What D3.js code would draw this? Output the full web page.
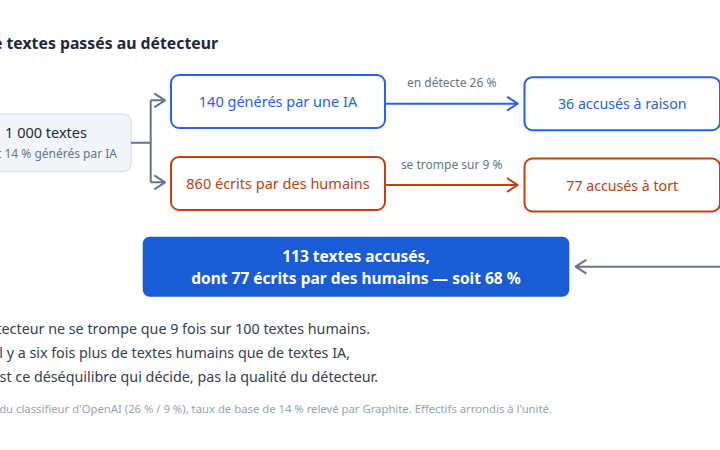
<!DOCTYPE html>
<html>
<head>
<meta charset="utf-8">
<script src="https://cdn.jsdelivr.net/npm/d3@7"></script>
<style>
  html, body { margin: 0; padding: 0; background: #fff; overflow: hidden; }
  svg { display: block; font-family: "Noto Sans", sans-serif; }
</style>
</head>
<body>
<div id="chart"></div>
<script>
// data
var titleText = "Mille textes passés au détecteur";
var sourceLabel = "1 000 textes";
var sourceSub = "dont 14 % générés par IA";
var groups = ["ia", "humains"];
var groupLabels = ["140 générés par une IA", "860 écrits par des humains"];
var rateLabels = ["en détecte 26 %", "se trompe sur 9 %"];
var accusedLabels = ["36 accusés à raison", "77 accusés à tort"];
var resultLines = ["113 textes accusés,", "dont 77 écrits par des humains — soit 68 %"];
var noteLines = [
  "Le détecteur ne se trompe que 9 fois sur 100 textes humains.",
  "Mais il y a six fois plus de textes humains que de textes IA,",
  "C'est ce déséquilibre qui décide, pas la qualité du détecteur."
];
var sourceNote = "Taux du classifieur d'OpenAI (26 % / 9 %), taux de base de 14 % relevé par Graphite. Effectifs arrondis à l'unité.";

var W = 720, H = 450;
var colors = {ia: "#2563eb", humains: "#c2410c"};
var grey = "#64748b";

var svg = d3.select("#chart")
  .append("svg")
  .attr("width", W)
  .attr("height", H);

// rows: left column and right column sit a touch apart
var yLeft = d3.scalePoint().domain(groups).range([101.5, 183.5]);
var yRight = d3.scalePoint().domain(groups).range([103.7, 185]);

var boxH = 53;
var mid = {x0: 171, x1: 385};
var right = {x0: 524.5, x1: 720};

// title
svg.append("text")
  .attr("x", 218).attr("y", 48.5)
  .attr("text-anchor", "end")
  .attr("font-size", 15.8)
  .attr("font-weight", "bold")
  .attr("fill", "#1e293b")
  .text(titleText);

// source box
var src = {x0: -39, x1: 131, y0: 114, y1: 171.5};
var srcCx = (src.x0 + src.x1) / 2;
svg.append("rect")
  .attr("x", src.x0).attr("y", src.y0)
  .attr("width", src.x1 - src.x0).attr("height", src.y1 - src.y0)
  .attr("rx", 8)
  .attr("fill", "#f1f5f9")
  .attr("stroke", "#dde4ee")
  .attr("stroke-width", 1.5);
svg.append("text")
  .attr("x", srcCx).attr("y", 137.5)
  .attr("text-anchor", "middle")
  .attr("font-size", 14.5)
  .attr("fill", "#1e293b")
  .text(sourceLabel);
svg.append("text")
  .attr("x", srcCx).attr("y", 158)
  .attr("text-anchor", "middle")
  .attr("font-size", 12)
  .attr("fill", grey)
  .text(sourceSub);

// chevron arrowhead helper
function chevron(g, x, y, dir, color) {
  var d = dir * 10;
  g.append("path")
    .attr("d", "M" + (x - d) + "," + (y - 6.5) + "L" + x + "," + y + "L" + (x - d) + "," + (y + 6.5))
    .attr("fill", "none")
    .attr("stroke", color)
    .attr("stroke-width", 2)
    .attr("stroke-linejoin", "round")
    .attr("stroke-linecap", "round");
}

// split connector
var split = svg.append("g");
var forkX = 150.7, tipX = 165;
var srcMid = (src.y0 + src.y1) / 2;
var forkY = groups.map(function(k) { return yLeft(k) - 1.2; });
split.append("path")
  .attr("d", "M" + src.x1 + "," + srcMid + "H" + forkX +
    "M" + forkX + "," + forkY[0] + "V" + forkY[1] +
    "M" + forkX + "," + forkY[0] + "H" + tipX +
    "M" + forkX + "," + forkY[1] + "H" + tipX)
  .attr("fill", "none")
  .attr("stroke", grey)
  .attr("stroke-width", 2);
forkY.forEach(function(y) { chevron(split, tipX, y, 1, grey); });

// group boxes
var rows = svg.append("g").selectAll("g")
  .data(groups)
  .enter().append("g");

rows.append("rect")
  .attr("x", mid.x0)
  .attr("y", function(d) { return yLeft(d) - boxH / 2; })
  .attr("width", mid.x1 - mid.x0)
  .attr("height", boxH)
  .attr("rx", 8)
  .attr("fill", "#fff")
  .attr("stroke", function(d) { return colors[d]; })
  .attr("stroke-width", 2);
rows.append("text")
  .attr("x", (mid.x0 + mid.x1) / 2)
  .attr("y", function(d) { return yLeft(d) + 5.5; })
  .attr("text-anchor", "middle")
  .attr("font-size", 14.5)
  .attr("fill", function(d) { return colors[d]; })
  .text(function(d, i) { return groupLabels[i]; });

// rate arrows
var arrowTip = 517.7;
rows.append("line")
  .attr("x1", mid.x1).attr("x2", arrowTip)
  .attr("y1", function(d) { return yRight(d); })
  .attr("y2", function(d) { return yRight(d); })
  .attr("stroke", function(d) { return colors[d]; })
  .attr("stroke-width", 2);
rows.each(function(d) { chevron(d3.select(this), arrowTip, yRight(d), 1, colors[d]); });
rows.append("text")
  .attr("x", 451.7)
  .attr("y", function(d) { return yRight(d) - 16.5; })
  .attr("text-anchor", "middle")
  .attr("font-size", 12)
  .attr("fill", grey)
  .text(function(d, i) { return rateLabels[i]; });

// accused boxes
rows.append("rect")
  .attr("x", right.x0)
  .attr("y", function(d) { return yRight(d) - boxH / 2; })
  .attr("width", right.x1 - right.x0)
  .attr("height", boxH)
  .attr("rx", 8)
  .attr("fill", "#fff")
  .attr("stroke", function(d) { return colors[d]; })
  .attr("stroke-width", 2);
rows.append("text")
  .attr("x", (right.x0 + right.x1) / 2)
  .attr("y", function(d) { return yRight(d) + 5.5; })
  .attr("text-anchor", "middle")
  .attr("font-size", 14.2)
  .attr("fill", function(d) { return colors[d]; })
  .text(function(d, i) { return accusedLabels[i]; });

// result box
var res = {x0: 142.7, x1: 569.3, y0: 236.7, y1: 296.7};
svg.append("rect")
  .attr("x", res.x0).attr("y", res.y0)
  .attr("width", res.x1 - res.x0).attr("height", res.y1 - res.y0)
  .attr("rx", 7)
  .attr("fill", "#1a5cd6");
svg.append("g").selectAll("text")
  .data(resultLines)
  .enter().append("text")
  .attr("x", (res.x0 + res.x1) / 2)
  .attr("y", function(d, i) { return 262.3 + i * 21.3; })
  .attr("text-anchor", "middle")
  .attr("font-size", 15.5)
  .attr("font-weight", "bold")
  .attr("fill", "#fff")
  .text(function(d) { return d; });

// return arrow from the right edge
var backY = (res.y0 + res.y1) / 2;
var back = svg.append("g");
back.append("line")
  .attr("x1", 760).attr("x2", 575.7)
  .attr("y1", backY).attr("y2", backY)
  .attr("stroke", grey)
  .attr("stroke-width", 2);
chevron(back, 575.7, backY, -1, grey);

// explanation
var noteEnds = [370, 350, 378];
svg.append("g").selectAll("text")
  .data(noteLines)
  .enter().append("text")
  .attr("x", function(d, i) { return noteEnds[i]; })
  .attr("y", function(d, i) { return 333.5 + i * 24.2; })
  .attr("text-anchor", "end")
  .attr("font-size", 14.3)
  .attr("fill", "#334155")
  .text(function(d) { return d; });

svg.append("text")
  .attr("x", 552).attr("y", 412.5)
  .attr("text-anchor", "end")
  .attr("font-size", 11.3)
  .attr("fill", "#94a3b8")
  .text(sourceNote);
</script>
</body>
</html>
